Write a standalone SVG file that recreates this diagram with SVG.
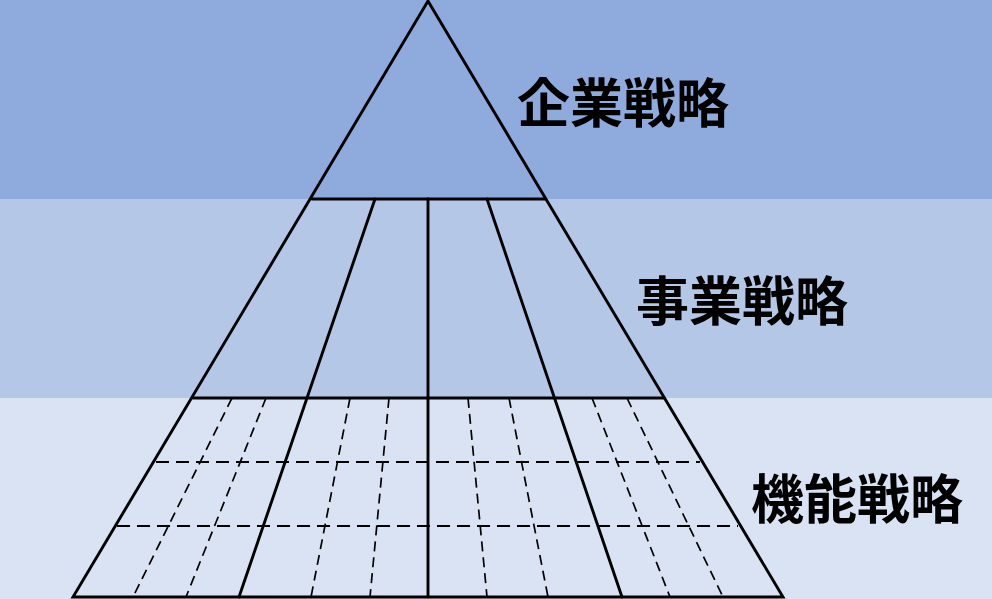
<svg xmlns="http://www.w3.org/2000/svg" width="992" height="599" viewBox="0 0 992 599">
<style>
.solid{stroke:#000;stroke-width:2.9;fill:none;stroke-linecap:round}
.dash{stroke:#000;stroke-width:1.7;fill:none;stroke-dasharray:10 6}
.hdash{stroke:#000;stroke-width:1.9;fill:none;stroke-dasharray:13 7}
.lbl{font-family:"Noto Sans CJK JP","Noto Sans",sans-serif;font-weight:700;font-size:53px;fill:#000;text-anchor:middle;dominant-baseline:central}
</style>
<g id="bands">
<rect x="0" y="0" width="992" height="199" fill="#8FAADC"/>
<rect x="0" y="199" width="992" height="199" fill="#B4C7E7"/>
<rect x="0" y="398" width="992" height="201" fill="#DAE3F3"/>
</g>
<g id="connectors">
<g id="dashed">
<line class="hdash" x1="156" y1="462" x2="700" y2="462"/>
<line class="hdash" x1="117" y1="526" x2="738" y2="526"/>
<line class="dash" x1="232" y1="398" x2="133" y2="597"/>
<line class="dash" x1="266" y1="398" x2="186" y2="597"/>
<line class="dash" x1="350" y1="398" x2="311" y2="597"/>
<line class="dash" x1="389" y1="398" x2="370" y2="597"/>
<line class="dash" x1="468" y1="398" x2="487" y2="597"/>
<line class="dash" x1="509" y1="398" x2="548" y2="597"/>
<line class="dash" x1="592" y1="398" x2="670" y2="597"/>
<line class="dash" x1="627" y1="398" x2="723" y2="597"/>
</g>
<g id="solid">
<polygon class="solid" points="428,1 783,597 73,597"/>
<line class="solid" x1="312" y1="199" x2="545" y2="199"/>
<line class="solid" x1="193" y1="398" x2="664" y2="398"/>
<line class="solid" x1="428" y1="199" x2="428" y2="597"/>
<line class="solid" x1="375" y1="199" x2="239" y2="597"/>
<line class="solid" x1="487" y1="199" x2="622" y2="597"/>
</g>
</g>
<g id="node-corporate"><text class="lbl" x="623" y="100">企業戦略</text></g>
<g id="node-business"><text class="lbl" x="742" y="298">事業戦略</text></g>
<g id="node-functional"><text class="lbl" x="857" y="496">機能戦略</text></g>
</svg>
